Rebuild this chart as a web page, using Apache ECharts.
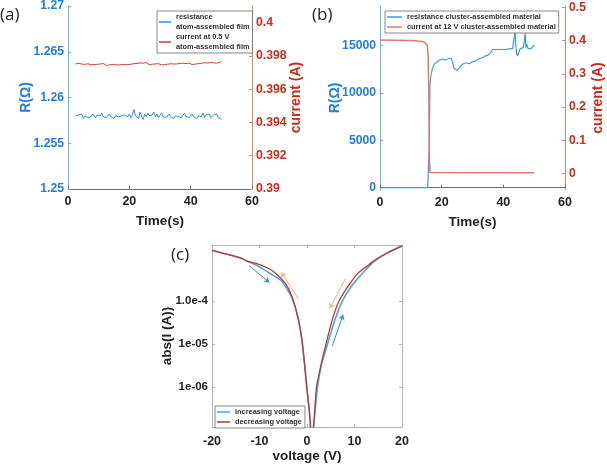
<!DOCTYPE html>
<html><head><meta charset="utf-8">
<script src="https://cdn.jsdelivr.net/npm/echarts@6/dist/echarts.min.js"></script>
<style>html,body{margin:0;padding:0;background:#fff}#c{width:607px;height:464px}</style>
</head><body><div id="c"></div>
<script>
// ---------- Panel (a) ----------
const aTime = [2.5,3,3.5,4,4.5,5,5.5,6,6.5,7,7.5,8,8.5,9,9.5,10,10.5,11,11.5,12,12.5,13,13.5,14,14.5,15,15.5,16,16.5,17,17.5,18,18.5,19,19.5,20,20.5,21,21.5,22,22.5,23,23.5,24,24.5,25,25.5,26,26.5,27,27.5,28,28.5,29,29.5,30,30.5,31,31.5,32,32.5,33,33.5,34,34.5,35,35.5,36,36.5,37,37.5,38,38.5,39,39.5,40,40.5,41,41.5,42,42.5,43,43.5,44,44.5,45,45.5,46,46.5,47,47.5,48,48.5,49,49.5,50];
const aResistance = [1.2580,1.2578,1.2581,1.2579,1.2582,1.2577,1.2580,1.2581,1.2578,1.2580,
1.2579,1.2582,1.2580,1.2578,1.2581,1.2579,1.2580,1.2583,1.2579,1.2581,
1.2578,1.2580,1.2582,1.2579,1.2581,1.2577,1.2580,1.2582,1.2579,1.2581,
1.2580,1.2578,1.2581,1.2583,1.2579,1.2582,1.2578,1.2581,1.2587,1.2580,
1.2582,1.2577,1.2584,1.2579,1.2576,1.2582,1.2579,1.2583,1.2580,1.2578,
1.2581,1.2584,1.2579,1.2582,1.2578,1.2580,1.2583,1.2579,1.2581,1.2578,
1.2580,1.2582,1.2579,1.2581,1.2577,1.2580,1.2582,1.2579,1.2581,1.2578,
1.2580,1.2583,1.2579,1.2581,1.2578,1.2580,1.2582,1.2579,1.2581,1.2577,
1.2580,1.2582,1.2579,1.2583,1.2578,1.2581,1.2579,1.2582,1.2578,1.2580,
1.2581,1.2579,1.2582,1.2578,1.2579,1.2576];
const aCurrent = [0.39752,0.39748,0.39755,0.39746,0.39751,0.39757,0.39749,0.39744,0.39753,0.39750,
0.39746,0.39752,0.39748,0.39755,0.39750,0.39745,0.39751,0.39747,0.39754,0.39749,
0.39743,0.39750,0.39746,0.39752,0.39748,0.39753,0.39747,0.39751,0.39745,0.39750,
0.39748,0.39754,0.39749,0.39752,0.39747,0.39738,0.39750,0.39746,0.39753,0.39748,
0.39755,0.39750,0.39758,0.39749,0.39756,0.39751,0.39760,0.39752,0.39747,0.39754,
0.39750,0.39745,0.39752,0.39748,0.39753,0.39749,0.39746,0.39752,0.39748,0.39754,
0.39750,0.39747,0.39753,0.39749,0.39751,0.39746,0.39752,0.39748,0.39755,0.39750,
0.39756,0.39751,0.39754,0.39749,0.39757,0.39752,0.39748,0.39755,0.39751,0.39758,
0.39753,0.39750,0.39756,0.39752,0.39759,0.39754,0.39757,0.39753,0.39760,0.39756,
0.39758,0.39762,0.39757,0.39763,0.39760,0.39766];
const aLeftTicks = [1.25,1.255,1.26,1.265,1.27];
const aRightTicks = [0.39,0.392,0.394,0.396,0.398,0.4];

// ---------- Panel (b) ----------
const bResTime = [0,15.5,15.8,16.0,16.2,16.5,17.0,17.5,18.0,18.5,19.0,20.0,21.0,22.0,23.0,23.5,24.0,25.0,26.0,27.0,28.0,29.0,30.0,31.0,32.0,33.0,34.0,35.0,36.0,36.5,37.0,38.0,38.5,39.0,40.0,41.0,42.0,43.0,43.5,43.8,44.0,44.3,44.6,45.0,45.5,46.0,46.5,46.9,47.1,47.3,47.6,48.0,48.5,49.0,49.5,50.0];
const bResistance = [0,0,200,5000,11000,11800,12600,13000,12900,13300,13400,13600,13500,13600,13700,13300,12600,12400,12800,13100,13200,13100,13300,13400,13600,13700,13900,14000,14300,14600,14500,14600,14400,14600,14600,14600,14700,14700,14800,16500,15200,14200,13900,14300,14700,14600,14800,15000,16300,14800,15200,14700,14800,14700,14900,15100];
const bCurTime = [0,5,10,12,13.5,14.5,15.0,15.3,15.6,15.8,16.0,16.2,16.5,50];
const bCurrent = [0.402,0.401,0.400,0.399,0.397,0.395,0.392,0.385,0.36,0.25,0.05,0.003,0.002,0.002];
const bLeftTicks = [0,5000,10000,15000];
const bRightTicks = [0,0.1,0.2,0.3,0.4,0.5];

// ---------- Panel (c) ----------
const cIncV = [-20,-17,-14,-12.4,-11,-9.5,-7.5,-5.3,-3.2,-1.8,-0.8,0.2,0.7,1.0,1.5,2.2,3.0,4.1,5.5,7.3,9.4,11.5,14.3,17,20];
const cIncI = [1.51e-3,1.23e-3,1.0e-3,8.3e-4,7.1e-4,5.75e-4,4.2e-4,2.9e-4,1.2e-4,3.9e-5,7.1e-6,5.6e-7,1.6e-7,5.0e-8,1.6e-7,1.0e-6,3.2e-6,8.3e-6,2.75e-5,9.3e-5,2.24e-4,4.2e-4,8.7e-4,1.32e-3,1.9e-3];
const cDecV = [-20,-17,-14,-12.4,-10.9,-8.5,-6.7,-4.6,-3.2,-2.2,-1.1,-0.06,0.5,1.0,1.5,2.0,3.0,3.8,5.2,6.6,8.7,10.8,12.5,14.3,17,20];
const cDecI = [1.51e-3,1.23e-3,1.0e-3,8.3e-4,7.6e-4,6.0e-4,4.5e-4,2.6e-4,1.32e-4,5.5e-5,1.38e-5,1.02e-6,2.8e-7,5.0e-8,1.78e-7,1.02e-6,3.5e-6,8.3e-6,3.3e-5,9.3e-5,2.24e-4,4.5e-4,6.3e-4,8.9e-4,1.32e-3,1.9e-3];
const cYTicks = [1e-6,1e-5,1e-4];
const cYTickLabels = ['1e-06','1e-05','1.0e-4'];
// arrows: [fromV, fromI, toV, toI]
const cBlueArrows = [[-12.2,6.6e-4,-7.9,2.7e-4],[5.3,9.0e-6,7.6,4.8e-5]];
const cOrangeArrows = [[-1.8,1.12e-4,-5.4,4.6e-4],[8.1,3.3e-4,4.8,6.8e-5]];

const BLUE_TXT = '#1f7fe0', RED_TXT = '#cc2a1a';
const FF = '"Liberation Sans", Arial, sans-serif';
const zip = (x, y) => x.map((v, i) => [v, y[i]]);
const fmtNum = v => String(parseFloat(Number(v).toFixed(4)));

function valueX(grid, name) {
  return {
    gridIndex: grid, type: 'value', min: 0, max: 60, interval: 20,
    axisLine: {lineStyle: {color: '#6b6f74', width: 1}},
    axisTick: {inside: true, length: 3, lineStyle: {color: '#6b6f74'}},
    axisLabel: {color: '#222', fontFamily: FF, fontWeight: 'bold', fontSize: 12.5, margin: 6},
    splitLine: {show: false},
    name: name, nameLocation: 'middle', nameGap: 25, nameMoveOverlap: false,
    nameTextStyle: {color: '#222', fontFamily: FF, fontWeight: 'bold', fontSize: 13.5}
  };
}
function sideY(grid, pos, min, max, ticks, txtColor, lineColor, name, gap) {
  return {
    gridIndex: grid, type: 'value', position: pos, min: min, max: max,
    axisLine: {show: true, lineStyle: {color: lineColor, width: 1}},
    axisTick: {show: true, inside: true, length: 3, customValues: ticks, lineStyle: {color: lineColor}},
    axisLabel: {color: txtColor, fontFamily: FF, fontWeight: 'bold', fontSize: 12.2, margin: 4,
      customValues: ticks, formatter: fmtNum},
    splitLine: {show: false},
    name: name, nameLocation: 'middle', nameGap: gap, nameMoveOverlap: false,
    nameTextStyle: {color: txtColor, fontFamily: FF, fontWeight: 'bold', fontSize: 14}
  };
}
const legendText = {color: '#333', fontFamily: FF, fontWeight: 'bold', fontSize: 7.4, lineHeight: 10};
function legend(names, left, top, w) {
  return {data: names.map(n => ({name: n, icon: 'rect'})), orient: 'vertical', left: left, top: top,
    itemWidth: w, itemHeight: 1.5, itemGap: 0, padding: [1, 3, 1, 2],
    borderColor: '#555', borderWidth: 0.7, backgroundColor: '#fff', textStyle: legendText};
}
function arrows(list, color) {
  return {
    silent: true, symbol: ['none', 'arrow'], symbolSize: 5, animation: false,
    label: {show: false}, emphasis: {disabled: true},
    lineStyle: {color: color, width: 1, type: 'solid'},
    data: list.map(a => [{coord: [a[0], a[1]]}, {coord: [a[2], a[3]]}])
  };
}
const panelTitle = (t, x, y) => ({type: 'text', left: x, top: y,
  style: {text: t, fontFamily: '"Open Sans", sans-serif', fontSize: 17, fill: '#222'}});

const option = {
  animation: false,
  grid: [
    {left: 68, top: 6, width: 184, height: 183},
    {left: 380, top: 6, width: 185, height: 184},
    {left: 212, top: 245, width: 190, height: 184}
  ],
  legend: [
    legend(['resistance\natom-assembled film', 'current at 0.5 V\natom-assembled film'], 157, 11, 12),
    legend(['resistance cluster-assembled material', 'current at 12 V cluster-assembled material'], 385, 11, 15),
    legend(['increasing voltage', 'decreasing voltage'], 215, 406, 13)
  ],
  graphic: [panelTitle('(a)', 0, 7), panelTitle('(b)', 312, 7), panelTitle('(c)', 171, 247)],
  xAxis: [
    valueX(0, 'Time(s)'),
    valueX(1, 'Time(s)'),
    {gridIndex: 2, type: 'value', min: -20, max: 20, interval: 10,
     axisLine: {onZero: false, lineStyle: {color: '#aab6c2'}},
     axisTick: {inside: true, length: 3, lineStyle: {color: '#aab6c2'}},
     axisLabel: {color: '#222', fontFamily: FF, fontWeight: 'bold', fontSize: 12.5, margin: 8},
     splitLine: {show: false},
     name: 'voltage (V)', nameLocation: 'middle', nameGap: 22, nameMoveOverlap: false,
     nameTextStyle: {color: '#222', fontFamily: FF, fontWeight: 'bold', fontSize: 13.5}},
    {gridIndex: 2, type: 'value', position: 'top', min: -20, max: 20, interval: 10,
     axisLine: {onZero: false, lineStyle: {color: '#aab6c2'}},
     axisTick: {inside: true, length: 3, lineStyle: {color: '#aab6c2'}},
     axisLabel: {show: false}, splitLine: {show: false}}
  ],
  yAxis: [
    sideY(0, 'left', 1.25, 1.27, aLeftTicks, BLUE_TXT, '#62b4ee', 'R(Ω)', 35),
    sideY(0, 'right', 0.39, 0.401, aRightTicks, RED_TXT, '#e0806e', 'current (A)', 37),
    sideY(1, 'left', -250, 19200, bLeftTicks, BLUE_TXT, '#62b4ee', 'R(Ω)', 38),
    sideY(1, 'right', -0.05, 0.504, bRightTicks, RED_TXT, '#e0806e', 'current (A)', 26),
    {gridIndex: 2, type: 'log', min: 1.2e-7, max: 2.0e-3,
     axisLine: {show: true, onZero: false, lineStyle: {color: '#aab6c2'}},
     axisTick: {show: true, inside: true, length: 3, customValues: cYTicks, lineStyle: {color: '#aab6c2'}},
     axisLabel: {color: '#222', fontFamily: FF, fontWeight: 'bold', fontSize: 11.5, margin: 4,
       customValues: cYTicks,
       formatter: v => { const i = cYTicks.findIndex(t => Math.abs(Math.log10(t) - Math.log10(v)) < 0.01); return i >= 0 ? cYTickLabels[i] : ''; }},
     splitLine: {show: false},
     name: 'abs(I (A))', nameLocation: 'middle', nameGap: 38, nameMoveOverlap: false,
     nameTextStyle: {color: '#222', fontFamily: FF, fontWeight: 'bold', fontSize: 13.5}},
    {gridIndex: 2, type: 'log', position: 'right', min: 1.2e-7, max: 2.0e-3,
     axisLine: {show: true, onZero: false, lineStyle: {color: '#aab6c2'}},
     axisTick: {show: true, inside: true, length: 3, customValues: cYTicks, lineStyle: {color: '#aab6c2'}},
     axisLabel: {show: false}, splitLine: {show: false}}
  ],
  series: [
    {name: 'resistance\natom-assembled film', type: 'line', xAxisIndex: 0, yAxisIndex: 0,
     data: zip(aTime, aResistance), symbol: 'none', lineStyle: {color: '#2b8fe6', width: 1}, itemStyle: {color: '#2b8fe6'}},
    {name: 'current at 0.5 V\natom-assembled film', type: 'line', xAxisIndex: 0, yAxisIndex: 1,
     data: zip(aTime, aCurrent), symbol: 'none', lineStyle: {color: '#d2402a', width: 1}, itemStyle: {color: '#d2402a'}},
    {name: 'resistance cluster-assembled material', type: 'line', xAxisIndex: 1, yAxisIndex: 2,
     data: zip(bResTime, bResistance), symbol: 'none', lineStyle: {color: '#3a9de8', width: 1.2}, itemStyle: {color: '#3a9de8'}},
    {name: 'current at 12 V cluster-assembled material', type: 'line', xAxisIndex: 1, yAxisIndex: 3,
     data: zip(bCurTime, bCurrent), symbol: 'none', lineStyle: {color: '#e07a6a', width: 1.5}, itemStyle: {color: '#e07a6a'}},
    {name: 'increasing voltage', type: 'line', xAxisIndex: 2, yAxisIndex: 4, clip: true,
     data: zip(cIncV, cIncI), symbol: 'none', smooth: 0.2, lineStyle: {color: '#45a6ea', width: 1.6}, itemStyle: {color: '#45a6ea'},
     markLine: arrows(cBlueArrows, '#2b8de0')},
    {name: 'decreasing voltage', type: 'line', xAxisIndex: 2, yAxisIndex: 4, clip: true,
     data: zip(cDecV, cDecI), symbol: 'none', smooth: 0.2, lineStyle: {color: '#c0392b', width: 1.3}, itemStyle: {color: '#c0392b'},
     markLine: arrows(cOrangeArrows, '#f0b27a')}
  ]
};
const chart = echarts.init(document.getElementById('c'), null, {renderer: 'canvas'});
chart.setOption(option);
</script></body></html>
